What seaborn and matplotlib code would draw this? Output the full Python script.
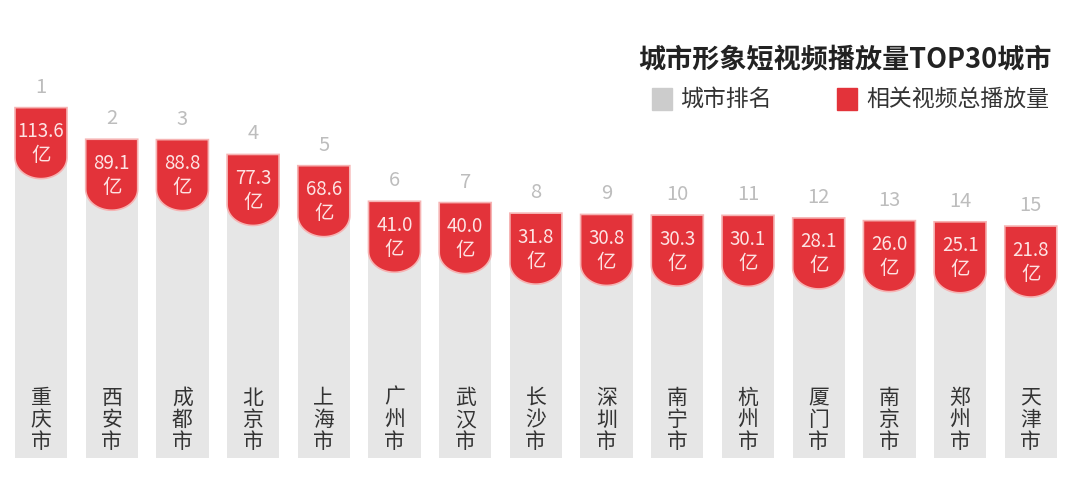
import numpy as np
import pandas as pd
import matplotlib
matplotlib.use("Agg")
import matplotlib.pyplot as plt
from matplotlib.patches import Polygon
import seaborn as sns

cities = ["重庆市", "西安市", "成都市", "北京市", "上海市", "广州市", "武汉市", "长沙市",
          "深圳市", "南宁市", "杭州市", "厦门市", "南京市", "郑州市", "天津市"]
ranks = list(range(1, 16))
plays = [113.6, 89.1, 88.8, 77.3, 68.6, 41.0, 40.0, 31.8, 30.8, 30.3, 30.1, 28.1, 26.0, 25.1, 21.8]

# bars start below zero so the short ones still have room for the labels
offset = 158
df = pd.DataFrame({"city": cities, "rank": ranks, "plays": plays})
df["h"] = df["plays"] + offset

sns.set_theme(style="white")
plt.rcParams["font.family"] = ["Noto Sans CJK SC", "DejaVu Sans"]

fig = plt.figure(figsize=(10.8, 4.8), dpi=100)
ax = fig.add_axes([0, 0, 1, 1])

sns.barplot(data=df, x="city", y="h", color="#e6e6e6", width=0.74,
            saturation=1, ax=ax, edgecolor="none")

px_x = 70.7
xmin = -41 / px_x
xmax = xmin + 1080 / px_x
px_y = 1.29
ymin = -22 / px_y
ymax = ymin + 480 / px_y
ax.set_xlim(xmin, xmax)
ax.set_ylim(ymin, ymax)
ax.axis("off")

red = "#e3333a"
half_w = 26 / px_x
straight = 50 / px_y
curve = 21 / px_y
t = np.linspace(0, np.pi, 40)
for i, row in df.iterrows():
    top = row["h"]
    xs = [i - half_w, i - half_w, i + half_w, i + half_w]
    ys = [top - straight, top, top, top - straight]
    arc_x = i + half_w * np.cos(t)
    arc_y = top - straight - curve * np.sin(t)
    pts = np.column_stack([xs + list(arc_x), ys + list(arc_y)])
    ax.add_patch(Polygon(pts, closed=True, facecolor=red, edgecolor="#f6b3b3",
                         linewidth=1.2, zorder=3))
    ax.text(i, top - 24 / px_y, f"{row['plays']:.1f}", ha="center", va="center",
            color="#fde3e3", fontsize=13.5, zorder=4)
    ax.text(i, top - 48 / px_y, "亿", ha="center", va="center",
            color="#fde3e3", fontsize=14, zorder=4)
    ax.text(i, top + 10 / px_y, str(row["rank"]), ha="center", va="bottom",
            color="#bdbdbd", fontsize=14.5)
    ax.text(i, 38 / px_y, "\n".join(row["city"]), ha="center", va="center",
            color="#333333", fontsize=15, linespacing=1.02)

fig.text(0.974, 0.875, "城市形象短视频播放量TOP30城市", ha="right", va="center",
         fontsize=19.5, fontweight="bold", color="#222222")

# legend
fig.patches.append(plt.Rectangle((652 / 1080, 1 - 110 / 480), 20 / 1080, 22 / 480,
                                 transform=fig.transFigure, color="#cccccc"))
fig.text(680 / 1080, 1 - 99 / 480, "城市排名", ha="left", va="center",
         fontsize=16.5, color="#333333")
fig.patches.append(plt.Rectangle((837 / 1080, 1 - 110 / 480), 20 / 1080, 22 / 480,
                                 transform=fig.transFigure, color=red))
fig.text(866 / 1080, 1 - 99 / 480, "相关视频总播放量", ha="left", va="center",
         fontsize=16.5, color="#333333")

fig.savefig("out.png", dpi=100, facecolor="white")
